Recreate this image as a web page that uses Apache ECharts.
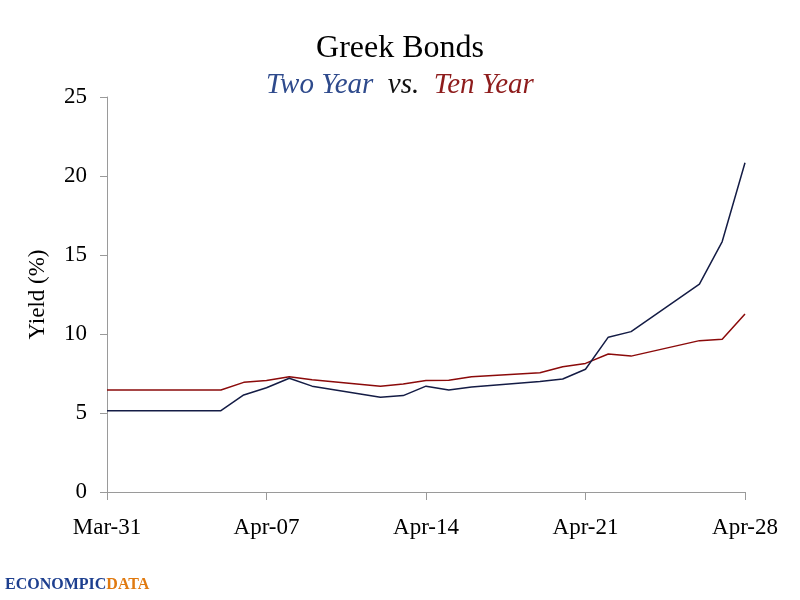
<!DOCTYPE html>
<html>
<head>
<meta charset="utf-8">
<script src="https://cdn.jsdelivr.net/npm/echarts@6/dist/echarts.min.js"></script>
<style>html,body{margin:0;padding:0;background:#fff}#c{width:800px;height:600px}</style>
</head>
<body>
<div id="c"></div>
<script>
var dates = ['2010-03-31','2010-04-01','2010-04-02','2010-04-05','2010-04-06','2010-04-07','2010-04-08','2010-04-09',
  '2010-04-12','2010-04-13','2010-04-14','2010-04-15','2010-04-16','2010-04-19','2010-04-20','2010-04-21',
  '2010-04-22','2010-04-23','2010-04-26','2010-04-27','2010-04-28'];
var twoYear = [5.15,5.15,5.15,5.15,6.14,6.6,7.2,6.7,6.0,6.1,6.7,6.45,6.65,7.0,7.15,7.77,9.8,10.15,13.16,15.85,20.84];
var tenYear = [6.46,6.46,6.46,6.46,6.94,7.05,7.3,7.1,6.7,6.83,7.05,7.07,7.3,7.55,7.93,8.14,8.73,8.6,9.58,9.66,11.27];
var tickLabels = ['Mar-31','Apr-07','Apr-14','Apr-21','Apr-28'];

var start = Date.parse(dates[0] + 'T00:00:00Z');
function dayIndex(d){ return Math.round((Date.parse(d + 'T00:00:00Z') - start) / 86400000); }
function pairs(vals){ return dates.map(function(d,i){ return [dayIndex(d), vals[i]]; }); }

var FONT = '"Liberation Serif", "DejaVu Serif", serif';
var chart = echarts.init(document.getElementById('c'));
chart.setOption({
  animation: false,
  backgroundColor: '#fff',
  title: {
    left: 'center', top: 28, itemGap: 6,
    text: 'Greek Bonds',
    textStyle: { fontFamily: FONT, fontSize: 32, fontWeight: 'normal', color: '#000' },
    subtext: '{a|Two Year}  {b|vs.}  {c|Ten Year}',
    subtextStyle: {
      fontFamily: FONT, fontSize: 29, fontStyle: 'italic',
      rich: {
        a: { fontFamily: FONT, fontSize: 29, fontStyle: 'italic', color: '#2e4a8c' },
        b: { fontFamily: FONT, fontSize: 29, fontStyle: 'italic', color: '#111' },
        c: { fontFamily: FONT, fontSize: 29, fontStyle: 'italic', color: '#8e1c1c' }
      }
    }
  },
  grid: { left: 107, right: 55, top: 97, bottom: 108, containLabel: false },
  xAxis: {
    type: 'value', min: 0, max: 28, interval: 7,
    axisLine: { lineStyle: { color: '#9a9a9a', width: 1 } },
    axisTick: { show: true, length: 8, lineStyle: { color: '#9a9a9a' } },
    splitLine: { show: false },
    axisLabel: {
      margin: 24, fontFamily: FONT, fontSize: 23, color: '#000',
      formatter: function(v){ return tickLabels[Math.round(v/7)] || ''; }
    }
  },
  yAxis: {
    type: 'value', min: 0, max: 25, interval: 5,
    name: 'Yield (%)', nameLocation: 'middle', nameGap: 58, nameRotate: 90,
    nameTextStyle: { fontFamily: FONT, fontSize: 23, color: '#000' },
    axisLine: { show: true, lineStyle: { color: '#9a9a9a', width: 1 } },
    axisTick: { show: true, length: 7, lineStyle: { color: '#9a9a9a' } },
    splitLine: { show: false },
    axisLabel: { margin: 20, fontFamily: FONT, fontSize: 23, color: '#000' }
  },
  series: [
    { name: 'Ten Year', type: 'line', data: pairs(tenYear), showSymbol: false, symbol: 'none',
      lineStyle: { color: '#8b0a0a', width: 1.5 } },
    { name: 'Two Year', type: 'line', data: pairs(twoYear), showSymbol: false, symbol: 'none',
      lineStyle: { color: '#141c45', width: 1.5 } }
  ],
  graphic: [{
    type: 'text', left: 5, top: 577,
    style: {
      text: '{a|ECONOMPIC}{b|DATA}',
      rich: {
        a: { fontFamily: FONT, fontSize: 16, fontWeight: 'bold', fill: '#1d3f8f' },
        b: { fontFamily: FONT, fontSize: 16, fontWeight: 'bold', fill: '#e07a10' }
      }
    }
  }]
});
</script>
</body>
</html>
